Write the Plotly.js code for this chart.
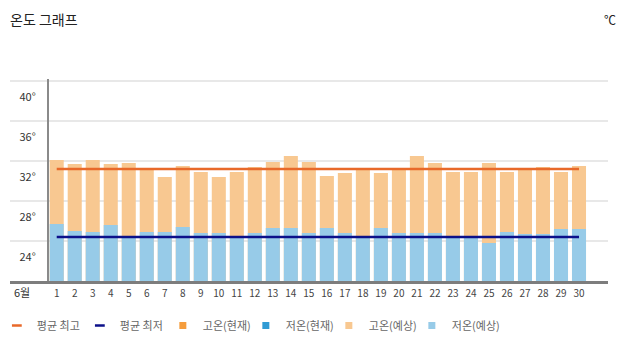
<!DOCTYPE html>
<html>
<head>
<meta charset="utf-8">
<script src="https://cdn.plot.ly/plotly-3.0.1.min.js"></script>
<style>html,body{margin:0;padding:0;background:#fff;}#chart{width:628px;height:354px;}</style>
</head>
<body>
<div id="chart"></div>
<script>
// ---- data ----
const days = [1,2,3,4,5,6,7,8,9,10,11,12,13,14,15,16,17,18,19,20,21,22,23,24,25,26,27,28,29,30];
const highForecast = [32.1,31.7,32.1,31.7,31.8,31.2,30.4,31.5,30.9,30.4,30.9,31.4,31.9,32.5,31.9,30.5,30.8,31.2,30.8,31.2,32.5,31.8,30.9,30.9,31.8,30.9,31.2,31.4,30.9,31.5];
const lowForecast  = [25.7,25.0,24.9,25.6,24.4,24.9,24.9,25.4,24.8,24.8,24.4,24.8,25.3,25.3,24.8,25.3,24.8,24.4,25.3,24.8,24.8,24.8,24.4,24.4,23.8,24.9,24.7,24.7,25.2,25.2];
const avgX = [1, 30];
const avgHigh = [31.2, 31.2];
const avgLow = [24.4, 24.4];
const yTickVals = [24, 28, 32, 36, 40];
const yTickText = ['24°', '28°', '32°', '36°', '40°'];
const legendNames = ['평균 최고', '평균 최저', '고온(현재)', '저온(현재)', '고온(예상)', '저온(예상)'];

const C = {
  avgHigh: '#e8692a', avgLow: '#0c108a',
  highCur: '#f59d3d', lowCur: '#309bd4',
  highFc: '#f8c891', lowFc: '#97cbe8'
};
const legendColors = [C.avgHigh, C.avgLow, C.highCur, C.lowCur, C.highFc, C.lowFc];
const legendSymbols = ['line-ew', 'line-ew', 'square', 'square', 'square', 'square'];

const FONT = '"Noto Sans CJK KR", "Noto Sans", sans-serif';

const traces = [
  {type: 'bar', x: days, y: highForecast, marker: {color: C.highFc}, showlegend: false, hoverinfo: 'skip'},
  {type: 'bar', x: days, y: lowForecast, marker: {color: C.lowFc}, showlegend: false, hoverinfo: 'skip'},
  {type: 'scatter', mode: 'lines', x: avgX, y: avgHigh, line: {color: C.avgHigh, width: 2.5}, showlegend: false, hoverinfo: 'skip'},
  {type: 'scatter', mode: 'lines', x: avgX, y: avgLow, line: {color: C.avgLow, width: 2.5}, showlegend: false, hoverinfo: 'skip'}
];
legendNames.forEach((n, i) => {
  const isLine = legendSymbols[i] === 'line-ew';
  traces.push({
    type: 'scatter', mode: 'markers', x: [null], y: [null], name: n,
    marker: isLine ? {symbol: 'line-ew', size: 7, line: {color: legendColors[i], width: 2.5}}
                   : {symbol: 'square', size: 7, color: legendColors[i], line: {width: 0}},
    showlegend: true
  });
});
// spacer entry so the last label is not clipped by the fixed entry width
traces.push({type: 'scatter', mode: 'markers', x: [null], y: [null], name: ' ',
             marker: {size: 1, color: 'rgba(0,0,0,0)', line: {width: 0, color: 'rgba(0,0,0,0)'}}, showlegend: true});

const layout = {
  width: 628, height: 354,
  margin: {l: 10, r: 20, t: 79, b: 73, autoexpand: false},
  paper_bgcolor: '#fff', plot_bgcolor: '#fff',
  font: {family: FONT, color: '#333'},
  barmode: 'overlay', bargap: 0.22,
  showlegend: true,
  title: {text: '온도 그래프', x: 0.016, xanchor: 'left', xref: 'container', y: 0.943, yanchor: 'middle', yref: 'container',
          font: {family: FONT, size: 14, color: '#222'}},
  xaxis: {
    range: [-1.594, 31.61], tickmode: 'array', tickvals: days, ticktext: days.map(String),
    showgrid: false, zeroline: false, showline: true, linecolor: '#7d7d7d', linewidth: 2.5,
    ticks: '', tickfont: {family: FONT, size: 10, color: '#444'}, ticklabelstandoff: 1, fixedrange: true
  },
  yaxis: {
    range: [20, 40.2], anchor: 'free', position: 0.0635,
    tickmode: 'array', tickvals: yTickVals, ticktext: yTickText,
    showgrid: true, gridcolor: '#e8e8e8', gridwidth: 1.5, zeroline: false,
    showline: true, linecolor: '#8a8a8a', linewidth: 2,
    ticks: '', ticklabelstandoff: 9, ticklabelshift: 16,
    tickfont: {family: FONT, size: 11, color: '#333'}, fixedrange: true
  },
  legend: {orientation: 'h', x: -0.022, xanchor: 'left', y: -0.22, yanchor: 'middle',
           font: {family: FONT, size: 11, color: '#666'}, entrywidth: 38, itemwidth: 30,
           bgcolor: 'rgba(0,0,0,0)'},
  annotations: [
    {text: '℃', xref: 'paper', yref: 'paper', x: (610 - 10) / 598, y: 1 + (79 - 20) / 202, xanchor: 'center', yanchor: 'middle',
     showarrow: false, font: {family: FONT, size: 12, color: '#222'}},
    {text: '6월', xref: 'paper', yref: 'paper', x: (22 - 10) / 598, y: -(292 - 281) / 202, xanchor: 'center', yanchor: 'middle',
     showarrow: false, font: {family: FONT, size: 11, color: '#333'}}
  ]
};

Plotly.newPlot('chart', traces, layout, {displayModeBar: false, staticPlot: true});
</script>
</body>
</html>
